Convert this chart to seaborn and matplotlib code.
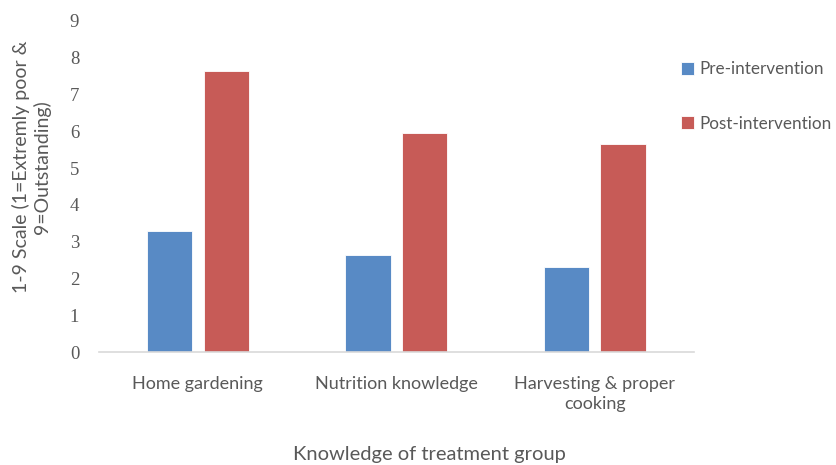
import matplotlib
matplotlib.use("Agg")
import matplotlib.pyplot as plt
import seaborn as sns
import pandas as pd

categories = ["Home gardening", "Nutrition knowledge", "Harvesting & proper\ncooking"]
pre_values = [3.3, 2.65, 2.3]
post_values = [7.65, 5.95, 5.65]
series_names = ["Pre-intervention", "Post-intervention"]
y_ticks = list(range(0, 10))

df = pd.DataFrame({
    "category": categories * 2,
    "value": pre_values + post_values,
    "series": [series_names[0]] * 3 + [series_names[1]] * 3,
})

sns.set_theme(style="white")
plt.rcParams["font.family"] = ["Lato", "DejaVu Sans"]
text_color = "#595959"

fig = plt.figure(figsize=(8.36, 4.65), dpi=100)
ax = fig.add_axes([0.118, 0.243, 0.712, 0.712])

palette = {series_names[0]: "#588ac5", series_names[1]: "#c75b57"}
sns.barplot(data=df, x="category", y="value", hue="series", palette=palette,
            width=0.57, gap=0.2, ax=ax, saturation=1, edgecolor="white", linewidth=0.6)

ax.set_ylim(0, 9)
ax.set_yticks(y_ticks)
ax.set_yticklabels([str(t) for t in y_ticks], family=["Liberation Serif"], fontsize=13.5, color=text_color)
ax.tick_params(axis="x", colors=text_color, labelsize=13, length=0, pad=17)
ax.tick_params(axis="y", length=0, pad=14)
for lbl in ax.get_xticklabels():
    lbl.set_color(text_color)
    lbl.set_linespacing(1.3)

for s in ["top", "right", "left"]:
    ax.spines[s].set_visible(False)
ax.spines["bottom"].set_color("#d9d9d9")
ax.spines["bottom"].set_linewidth(1.2)

ax.set_xlabel("Knowledge of treatment group", fontsize=14.5, color=text_color)
ax.xaxis.set_label_coords(0.556, -0.31)
ax.xaxis.label.set_va("center")
ax.set_ylabel("1-9 Scale (1=Extremly poor &\n9=Outstanding)", fontsize=14, color=text_color,
              linespacing=1.15)
ax.yaxis.set_label_coords(-0.113, 0.559)
ax.yaxis.label.set_va("center")

leg = ax.legend(loc="center left", bbox_to_anchor=(0.814, 0.7925), bbox_transform=fig.transFigure,
                frameon=False, fontsize=12.3, handlelength=0.78, handleheight=0.78,
                handletextpad=0.3, labelspacing=2.25, borderaxespad=0, borderpad=0)
for t in leg.get_texts():
    t.set_color(text_color)

fig.savefig("out.png", dpi=100)
